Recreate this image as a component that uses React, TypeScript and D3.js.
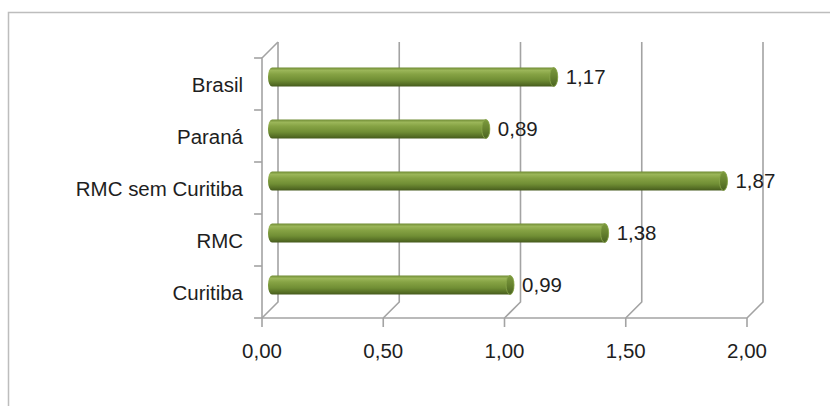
import React from "react";
import * as d3 from "d3";

// Taxa por recorte territorial
const categories: string[] = ["Brasil", "Paraná", "RMC sem Curitiba", "RMC", "Curitiba"];
const values: number[] = [1.17, 0.89, 1.87, 1.38, 0.99];
const tickValues: number[] = [0, 0.5, 1, 1.5, 2];
const tickLabels: string[] = ["0,00", "0,50", "1,00", "1,50", "2,00"];

const W = 830;
const H = 406;

// Front plane of the 3D plot box and its depth offset
const frontLeft = 262;
const frontRight = 747;
const frontTop = 58;
const frontBottom = 318;
const depth = 16;

const FONT = "'Liberation Sans', Arial, Helvetica, sans-serif";
const FONT_SIZE = 19.5;
const STRETCH = 1.05;
const GRID = "#a3a3a3";

const fmt = (v: number) => v.toFixed(2).replace(".", ",");

function Label({ x, y, anchor, text }: { x: number; y: number; anchor: string; text: string }) {
  return (
    <text
      transform={`translate(${x},${y}) scale(${STRETCH},1)`}
      textAnchor={anchor}
      fontFamily={FONT}
      fontSize={FONT_SIZE}
      fill="#1e1e1e"
    >
      {text}
    </text>
  );
}

export default function App() {
  const x = d3.scaleLinear().domain([0, 2]).range([frontLeft, frontRight]);
  const y = d3.scaleBand<string>().domain(categories).range([frontTop, frontBottom]);
  const bandEdges = [...categories.map((c) => y(c) as number), frontBottom];

  const barH = 19;
  const rx = 4;
  const mid = depth / 2;

  return (
    <svg
      width={W}
      height={H}
      style={{ position: "absolute", left: 0, top: 0, background: "#fff" }}
    >
      <defs>
        <linearGradient id="cyl" x1="0" y1="0" x2="0" y2="1">
          <stop offset="0%" stopColor="#6f8b34" />
          <stop offset="15%" stopColor="#9bb659" />
          <stop offset="35%" stopColor="#86a344" />
          <stop offset="65%" stopColor="#718f35" />
          <stop offset="88%" stopColor="#566f25" />
          <stop offset="100%" stopColor="#45591c" />
        </linearGradient>
        <linearGradient id="cap" x1="0" y1="0" x2="0" y2="1">
          <stop offset="0%" stopColor="#7d9a3e" />
          <stop offset="50%" stopColor="#66822f" />
          <stop offset="100%" stopColor="#4a6320" />
        </linearGradient>
      </defs>

      {/* outer frame */}
      <rect x={8.5} y={12.5} width={W + 20} height={H + 20} fill="#fff" stroke="#bdbdbd" strokeWidth={1.5} />

      {/* back-wall gridlines with floor diagonals, and ticks under the floor */}
      {tickValues.map((v, i) => {
        const fx = x(v);
        const bx = fx + depth;
        return (
          <g key={`g${i}`} stroke={GRID} strokeWidth={1.6} fill="none">
            <path d={`M${bx},${frontTop - depth} L${bx},${frontBottom - depth} L${fx},${frontBottom}`} />
            <line x1={fx} y1={frontBottom} x2={fx} y2={frontBottom + 9} />
          </g>
        );
      })}

      {/* floor front edge */}
      <line x1={frontLeft} y1={frontBottom} x2={frontRight} y2={frontBottom} stroke={GRID} strokeWidth={1.6} />

      {/* left wall front edge with category ticks */}
      <g stroke={GRID} strokeWidth={1.6} fill="none">
        <path d={`M${frontLeft + depth},${frontTop - depth} L${frontLeft},${frontTop} L${frontLeft},${frontBottom}`} />
        {bandEdges.map((e, i) => (
          <line key={`t${i}`} x1={frontLeft - 8} y1={e} x2={frontLeft} y2={e} />
        ))}
      </g>

      {/* cylinder bars */}
      {categories.map((c, i) => {
        const cy = (y(c) as number) + y.bandwidth() / 2 - mid + 1;
        const x0 = x(0) + mid + 2;
        const x1 = x(values[i]) + mid;
        const top = cy - barH / 2;
        const bot = cy + barH / 2;
        const body = `M${x0},${top} L${x1},${top} A${rx},${barH / 2} 0 0 1 ${x1},${bot} L${x0},${bot} A${rx},${barH / 2} 0 0 1 ${x0},${top} Z`;
        return (
          <g key={c}>
            <path d={body} fill="url(#cyl)" />
            <ellipse cx={x1} cy={cy} rx={rx} ry={barH / 2} fill="url(#cap)" stroke="#8aa74b" strokeWidth={0.8} />
          </g>
        );
      })}

      {/* value labels */}
      {categories.map((c, i) => {
        const cy = (y(c) as number) + y.bandwidth() / 2 - mid + 1;
        return (
          <Label key={`v${i}`} x={x(values[i]) + mid + rx + 8} y={cy + 7} anchor="start" text={fmt(values[i])} />
        );
      })}

      {/* category labels */}
      {categories.map((c) => (
        <Label
          key={`c${c}`}
          x={243}
          y={(y(c) as number) + y.bandwidth() / 2 + 7.5}
          anchor="end"
          text={c}
        />
      ))}

      {/* value axis labels */}
      {tickValues.map((v, i) => (
        <Label key={`a${i}`} x={x(v)} y={358} anchor="middle" text={tickLabels[i]} />
      ))}
    </svg>
  );
}
